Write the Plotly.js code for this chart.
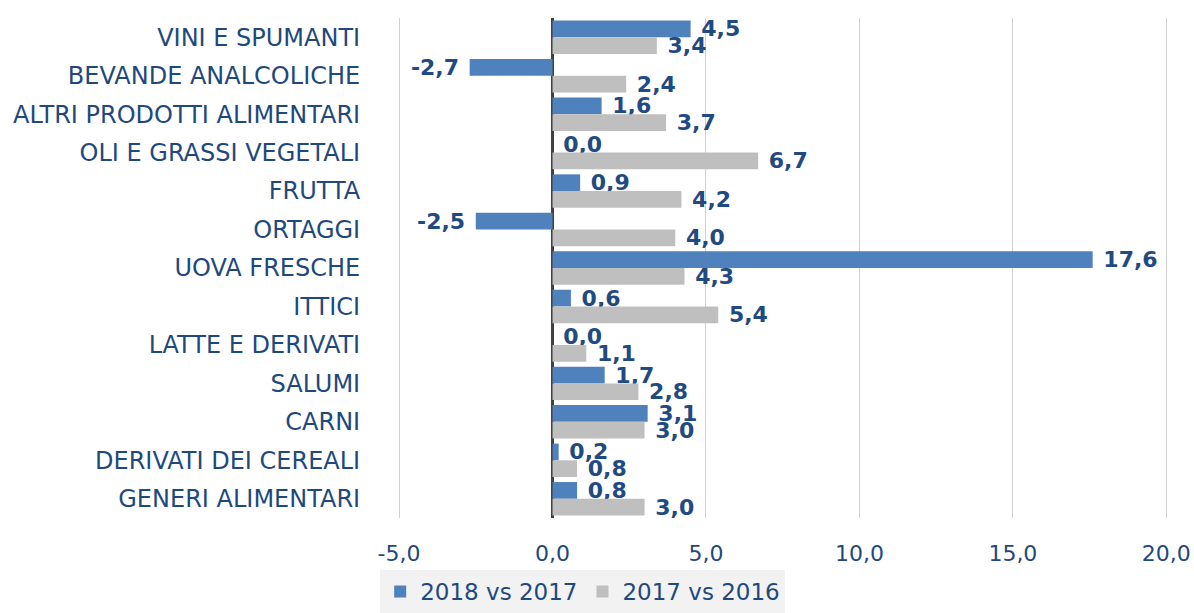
<!DOCTYPE html>
<html>
<head>
<meta charset="utf-8">
<script src="https://cdn.plot.ly/plotly-3.0.1.min.js"></script>
<style>html,body{margin:0;padding:0;background:#fff;}#chart{width:1194px;height:613px;}</style>
</head>
<body>
<div id="chart"></div>
<script>
var categories = ["VINI E SPUMANTI","BEVANDE ANALCOLICHE","ALTRI PRODOTTI ALIMENTARI","OLI E GRASSI VEGETALI","FRUTTA","ORTAGGI","UOVA FRESCHE","ITTICI","LATTE E DERIVATI","SALUMI","CARNI","DERIVATI DEI CEREALI","GENERI ALIMENTARI"];
var series2018vs2017 = [4.5,-2.7,1.6,0.0,0.9,-2.5,17.6,0.6,0.0,1.7,3.1,0.2,0.8];
var series2017vs2016 = [3.4,2.4,3.7,6.7,4.2,4.0,4.3,5.4,1.1,2.8,3.0,0.8,3.0];
var seriesNames = ["2018 vs 2017","2017 vs 2016"];
var xTicks = [-5,0,5,10,15,20];

var FONT = "DejaVu Sans";
var TXT = "#1f497d";
var LBL = "#1f4a82";
var SP = "\u00a0";

function fmt(v){ return v.toFixed(1).replace(".", ","); }
function labels(vals){ return vals.map(function(v){ return v < 0 ? fmt(v) + SP : SP + fmt(v); }); }

function mk(vals, name, color){
  return {
    type:"bar", orientation:"h", name:name, y:categories, x:vals,
    marker:{color:color},
    text:labels(vals), texttemplate:"%{text}", textposition:"outside", cliponaxis:false,
    constraintext:"none",
    textfont:{family:FONT, size:22, color:LBL, weight:"bold"},
    hoverinfo:"x+y"
  };
}
var data = [mk(series2018vs2017, seriesNames[0], "#4f81bd"), mk(series2017vs2016, seriesNames[1], "#bfbfbf")];

var layout = {
  width:1194, height:613,
  margin:{l:396, r:24, t:18, b:95},
  barmode:"group", bargap:0.13, bargroupgap:0,
  separators:",.",
  font:{family:FONT, color:TXT},
  paper_bgcolor:"#fff", plot_bgcolor:"#fff",
  xaxis:{range:[-5.1,20.12], tickvals:xTicks, ticktext:xTicks.map(fmt), showgrid:true, gridcolor:"#d0d0d0", gridwidth:1,
         zeroline:true, zerolinecolor:"#404040", zerolinewidth:3, showline:false,
         ticks:"outside", ticklen:16, tickcolor:"rgba(0,0,0,0)", tickfont:{family:FONT, size:22, color:TXT}},
  yaxis:{autorange:"reversed", type:"category", showgrid:false, zeroline:false, showline:false,
         ticks:"outside", ticklen:30, tickcolor:"rgba(0,0,0,0)", tickfont:{family:FONT, size:24, color:TXT}},
  legend:{orientation:"h", xref:"container", yref:"container", x:0.488, xanchor:"center", y:0, yanchor:"bottom",
          bgcolor:"#f2f2f2", font:{family:FONT, size:23, color:TXT}, traceorder:"normal"},
  showlegend:true
};
Plotly.newPlot("chart", data, layout, {displayModeBar:false, staticPlot:true});
</script>
</body>
</html>
